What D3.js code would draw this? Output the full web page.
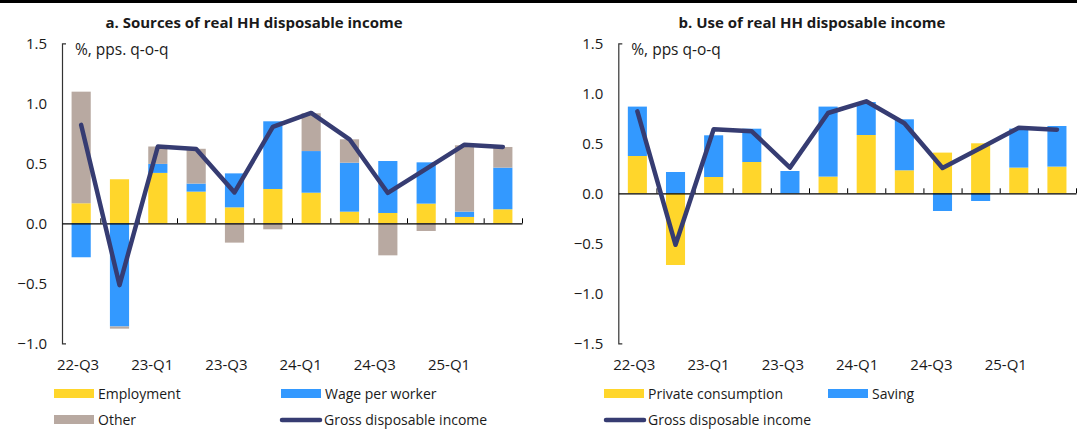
<!DOCTYPE html>
<html lang="en">
<head>
<meta charset="UTF-8">
<title>Real HH disposable income</title>
<script src="https://d3js.org/d3.v7.min.js"></script>
<style>
    body { margin: 0; background: #fff; }
    svg text { font-family: "Open Sans", "Noto Sans", sans-serif; fill: #1a1a1a; }
    .title { font-size: 15px; font-weight: bold; text-anchor: middle; }
    .tick-label { font-size: 15px; }
    .unit { font-size: 15.5px; }
    .legend text { font-size: 14px; }
</style>
</head>
<body>
<svg id="svg" width="1077" height="432"></svg>
<script>
    // quarters shown on both panels
    const quarters = ["22-Q3", "22-Q4", "23-Q1", "23-Q2", "23-Q3", "23-Q4",
                      "24-Q1", "24-Q2", "24-Q3", "24-Q4", "25-Q1", "25-Q2"];
    const xLabels = ["22-Q3", "23-Q1", "23-Q3", "24-Q1", "24-Q3", "25-Q1"];

    // panel a: sources
    const employment = [0.167, 0.367, 0.42, 0.264, 0.133, 0.286, 0.255, 0.097, 0.086, 0.164, 0.053, 0.117];
    const wagePerWorker = [-0.283, -0.86, 0.075, 0.067, 0.283, 0.564, 0.347, 0.408, 0.433, 0.344, 0.044, 0.347];
    const other = [0.93, -0.018, 0.145, 0.29, -0.161, -0.05, 0.315, 0.195, -0.267, -0.064, 0.553, 0.172];

    // panel b: uses
    const privateConsumption = [0.373, -0.717, 0.163, 0.313, 0.0, 0.167, 0.583, 0.23, 0.407, 0.5, 0.257, 0.267];
    const saving = [0.494, 0.213, 0.417, 0.333, 0.223, 0.7, 0.33, 0.51, -0.177, -0.077, 0.39, 0.406];

    // shared line
    const grossIncome = [0.82, -0.515, 0.64, 0.62, 0.257, 0.803, 0.92, 0.7, 0.253, 0.453, 0.655, 0.636];

    const yTicksA = [-1.0, -0.5, 0.0, 0.5, 1.0, 1.5];
    const yTicksB = [-1.5, -1.0, -0.5, 0.0, 0.5, 1.0, 1.5];

    const colors = { yellow: "#FFD62B", blue: "#3399FF", grey: "#B8A9A1", navy: "#363C72" };

    const svg = d3.select("#svg");

    // black rule at the very top
    svg.append("rect").attr("x", 0).attr("y", 0).attr("width", 1077).attr("height", 3).attr("fill", "#000");

    const panels = [
        {
            title: "a. Sources of real HH disposable income", titleX: 254,
            unit: "%, pps. q-o-q",
            x0: 62, x1: 522, labelX0: 59.5, labelX1: 504.7,
            yDomain: [-1, 1.5], yTicks: yTicksA,
            series: [
                { key: "Employment", values: employment, color: colors.yellow },
                { key: "Wage per worker", values: wagePerWorker, color: colors.blue },
                { key: "Other", values: other, color: colors.grey }
            ],
            legend: [
                { label: "Employment", color: colors.yellow, x: 54, y: 393 },
                { label: "Wage per worker", color: colors.blue, x: 281, y: 393 },
                { label: "Other", color: colors.grey, x: 54, y: 419 },
                { label: "Gross disposable income", color: colors.navy, x: 280, y: 419, line: true }
            ]
        },
        {
            title: "b. Use of real HH disposable income", titleX: 812,
            unit: "%, pps q-o-q",
            x0: 618.3, x1: 1076, labelX0: 615.7, labelX1: 1061.5,
            yDomain: [-1.5, 1.5], yTicks: yTicksB,
            series: [
                { key: "Private consumption", values: privateConsumption, color: colors.yellow },
                { key: "Saving", values: saving, color: colors.blue }
            ],
            legend: [
                { label: "Private consumption", color: colors.yellow, x: 604, y: 393 },
                { label: "Saving", color: colors.blue, x: 828, y: 393 },
                { label: "Gross disposable income", color: colors.navy, x: 604, y: 419, line: true }
            ]
        }
    ];

    panels.forEach(p => {
        const x = d3.scaleBand().domain(quarters).range([p.x0, p.x1]).paddingInner(0.5).paddingOuter(0.25);
        const xLab = d3.scaleBand().domain(quarters).range([p.labelX0, p.labelX1]);
        const edge = d3.scaleLinear().domain([0, quarters.length]).range([p.x0, p.x1]);
        const y = d3.scaleLinear().domain(p.yDomain).range([343.3, 43.3]);

        // title and unit
        svg.append("text").attr("class", "title").attr("x", p.titleX).attr("y", 28).text(p.title);
        svg.append("text").attr("class", "unit").attr("x", p.x0 + 13).attr("y", 55).text(p.unit);

        // stacked bars
        const rows = quarters.map((q, i) => {
            const r = { q };
            p.series.forEach(s => r[s.key] = s.values[i]);
            return r;
        });
        const stacked = d3.stack().keys(p.series.map(s => s.key)).offset(d3.stackOffsetDiverging)(rows);

        svg.append("g").selectAll("g")
            .data(stacked)
            .join("g")
            .attr("fill", (d, i) => p.series[i].color)
            .selectAll("rect")
            .data(d => d)
            .join("rect")
            .attr("x", d => x(d.data.q))
            .attr("width", x.bandwidth())
            .attr("y", d => y(Math.max(d[0], d[1])))
            .attr("height", d => Math.abs(y(d[0]) - y(d[1])));

        // y axis: only the end caps point inward
        const yAxis = svg.append("g")
            .attr("transform", `translate(${p.x0},0)`)
            .call(d3.axisLeft(y).tickValues(p.yTicks).tickSizeInner(0).tickSizeOuter(-4).tickPadding(15)
                .tickFormat(d3.format(".1f")));
        yAxis.attr("font-family", null).attr("font-size", null);
        yAxis.select(".domain").attr("stroke", "#333").attr("stroke-width", 1.2);
        yAxis.selectAll(".tick text").attr("class", "tick-label").attr("fill", "#1a1a1a");

        // zero line with category separators pointing up
        const xAxis = svg.append("g")
            .attr("transform", `translate(0,${y(0)})`)
            .call(d3.axisBottom(edge).tickValues(d3.range(1, quarters.length + 1)).tickSizeInner(-5).tickSizeOuter(0).tickFormat(""));
        xAxis.select(".domain").attr("stroke", "#000").attr("stroke-width", 1.2);
        xAxis.selectAll(".tick line").attr("stroke", "#000");

        // category labels under the plot
        svg.append("g").selectAll("text")
            .data(xLabels)
            .join("text")
            .attr("class", "tick-label")
            .attr("x", d => xLab(d) + xLab.bandwidth() / 2)
            .attr("y", 370)
            .attr("text-anchor", "middle")
            .text(d => d);

        // gross disposable income line
        const line = d3.line()
            .x((d, i) => x(quarters[i]) + x.bandwidth() / 2)
            .y(d => y(d));
        svg.append("path")
            .datum(grossIncome)
            .attr("d", line)
            .attr("fill", "none")
            .attr("stroke", colors.navy)
            .attr("stroke-width", 4.5)
            .attr("stroke-linejoin", "round")
            .attr("stroke-linecap", "round");

        // legend
        const lg = svg.append("g").attr("class", "legend");
        p.legend.forEach(l => {
            if (l.line) {
                lg.append("line").attr("x1", l.x + 2).attr("x2", l.x + 40).attr("y1", l.y + 1).attr("y2", l.y + 1)
                    .attr("stroke", l.color).attr("stroke-width", 4.5).attr("stroke-linecap", "round");
            } else {
                lg.append("rect").attr("x", l.x).attr("y", l.y - 4).attr("width", 40).attr("height", 9).attr("fill", l.color);
            }
            lg.append("text").attr("x", l.x + 44).attr("y", l.y + 5.5).text(l.label);
        });
    });
</script>
</body>
</html>
